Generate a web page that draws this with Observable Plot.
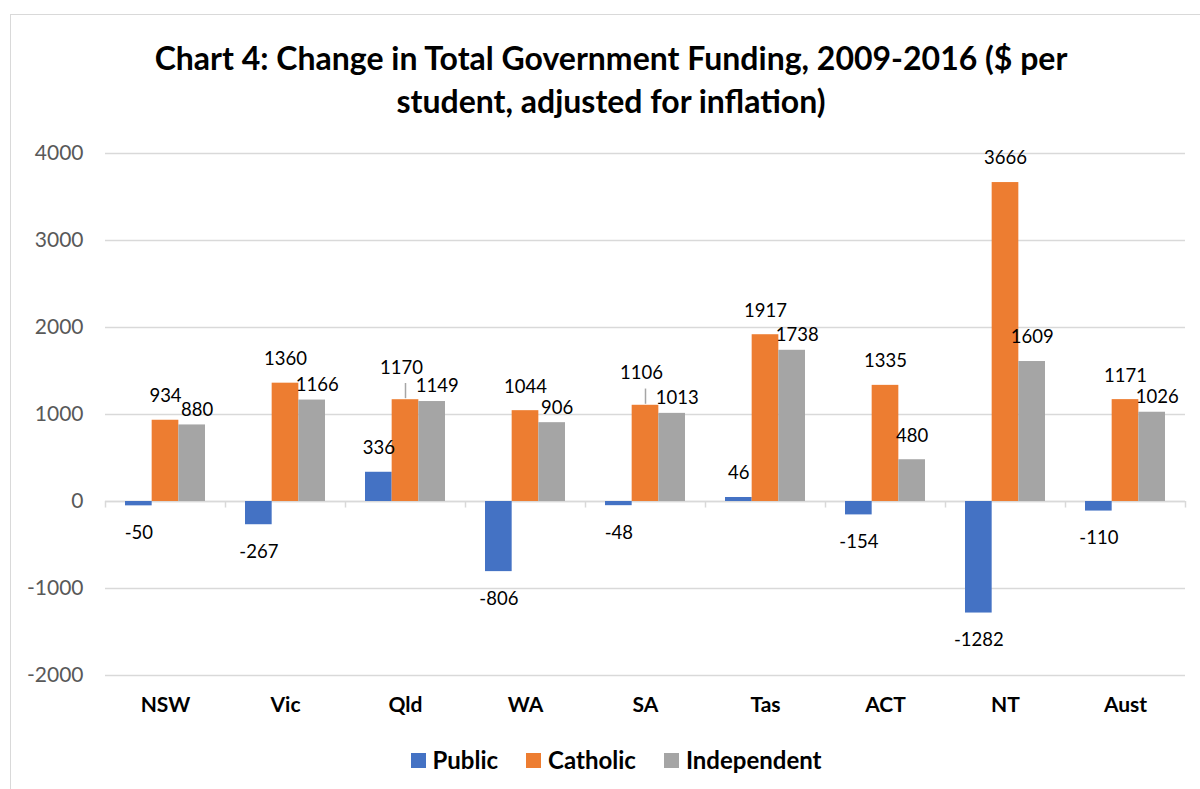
<!DOCTYPE html>
<html>
<head>
<meta charset="utf-8">
<script src="https://cdn.jsdelivr.net/npm/d3@7"></script>
<script src="https://cdn.jsdelivr.net/npm/@observablehq/plot@0.6"></script>
<style>
  body { margin: 0; background: #fff; font-family: Lato, "Open Sans", sans-serif; overflow: hidden; }
  #wrap { position: relative; width: 1200px; height: 789px; }
  #frame { position: absolute; left: 10px; top: 14px; width: 1200px; height: 800px; border: 1.5px solid #d9d9d9; box-sizing: border-box; }
  #title { position: relative; margin: 0; padding-top: 36px; height: 86px; width: 1222px; text-align: center; font-weight: bold; font-size: 32px; line-height: 43px; color: #000; white-space: nowrap; }
  #chart { position: relative; }
  #legend { position: relative; display: flex; justify-content: center; align-items: center; gap: 28px; margin-top: 13px; font-weight: bold; font-size: 24px; line-height: 30px; padding-left: 32px; }
  .item { display: flex; align-items: center; gap: 7px; }
  .sw { width: 15px; height: 15px; display: inline-block; }
</style>
</head>
<body>
<div id="wrap">
  <div id="frame"></div>
  <div id="title">Chart 4: Change in Total Government Funding, 2009-2016 ($ per<br>student, adjusted for inflation)</div>
  <div id="chart"></div>
  <div id="legend"></div>
</div>
<script>
const categories = ["NSW", "Vic", "Qld", "WA", "SA", "Tas", "ACT", "NT", "Aust"];
const seriesNames = ["Public", "Catholic", "Independent"];
const seriesColors = ["#4472C4", "#ED7D31", "#A5A5A5"];
const publicValues = [-50, -267, 336, -806, -48, 46, -154, -1282, -110];
const catholicValues = [934, 1360, 1170, 1044, 1106, 1917, 1335, 3666, 1171];
const independentValues = [880, 1166, 1149, 906, 1013, 1738, 480, 1609, 1026];
const yTicks = [-2000, -1000, 0, 1000, 2000, 3000, 4000];

const rows = categories.map((c, i) => ({
  cat: c,
  Public: publicValues[i],
  Catholic: catholicValues[i],
  Independent: independentValues[i]
}));

const band = 120, group = 80, bw = group / 3, pad = (band - group) / 2;
const inset = (i) => ({ insetLeft: pad + i * bw, insetRight: band - pad - (i + 1) * bw });
const gridColor = "#d9d9d9";
const fs = 18.5;

// labels that would collide (both 4-digit, close in height)
const crowded = (d) => Math.abs(d.Catholic - d.Independent) < 100 && d.Independent >= 1000;
const lowered = (d) => d.Catholic - d.Independent < 500;

const marks = [
  Plot.gridY(yTicks, { stroke: gridColor, strokeOpacity: 1, strokeWidth: 1.5 }),
  Plot.ruleX(categories, { x: d => d, dx: -band / 2, y1: 0, y2: -75, stroke: gridColor, strokeWidth: 1.5 }),
  Plot.ruleX(categories.slice(-1), { x: d => d, dx: band / 2, y1: 0, y2: -75, stroke: gridColor, strokeWidth: 1.5 }),
  Plot.ruleY([0], { stroke: gridColor, strokeWidth: 1.5 })
];

seriesNames.forEach((s, i) => {
  marks.push(Plot.barY(rows, { x: "cat", y: s, fill: seriesColors[i], ...inset(i) }));
});

// Public labels: above positive bars, below negative bars
marks.push(Plot.text(rows.filter(d => d.Public >= 0), { x: "cat", y: "Public", text: d => String(d.Public), dx: -bw, dy: -24, fontSize: fs, fill: "#000" }));
marks.push(Plot.text(rows.filter(d => d.Public < 0), { x: "cat", y: "Public", text: d => String(d.Public), dx: -bw, dy: 27, fontSize: fs, fill: "#000" }));
// Catholic labels
marks.push(Plot.text(rows.filter(d => !crowded(d)), { x: "cat", y: "Catholic", text: d => String(d.Catholic), dy: -24, fontSize: fs, fill: "#000" }));
marks.push(Plot.text(rows.filter(crowded), { x: "cat", y: "Catholic", text: d => String(d.Catholic), dx: -4, dy: -32, fontSize: fs, fill: "#000" }));
// leader lines for lifted labels
marks.push(Plot.ruleX(rows.filter(crowded), { x: "cat", y1: d => d.Catholic, y2: d => d.Catholic + 175, dy: -1, stroke: "#a6a6a6", strokeWidth: 1.5 }));
// Independent labels (lowered when close to the Catholic label)
marks.push(Plot.text(rows.filter(d => !lowered(d)), { x: "cat", y: "Independent", text: d => String(d.Independent), dx: bw, dy: -24, fontSize: fs, fill: "#000" }));
marks.push(Plot.text(rows.filter(lowered), { x: "cat", y: "Independent", text: d => String(d.Independent), dx: bw + 5, dy: -15, fontSize: fs, fill: "#000" }));

marks.push(Plot.axisY(yTicks, { tickSize: 0, tickPadding: 22, fontSize: 21, color: "#595959", label: null, tickFormat: d => String(d) }));
marks.push(Plot.axisX({ tickSize: 0, tickPadding: 22, fontSize: 21, fontWeight: "bold", color: "#000", label: null }));

const chart = Plot.plot({
  width: 1200,
  height: 610,
  marginLeft: 105,
  marginRight: 15,
  marginTop: 31,
  marginBottom: 57,
  style: { fontFamily: "Lato, 'Open Sans', sans-serif", background: "transparent", overflow: "visible" },
  x: { domain: categories, padding: 0, axis: null },
  y: { domain: [-2000, 4000], axis: null },
  marks
});
document.getElementById("chart").appendChild(chart);

const legend = document.getElementById("legend");
seriesNames.forEach((s, i) => {
  const it = document.createElement("div");
  it.className = "item";
  const sw = document.createElement("span");
  sw.className = "sw";
  sw.style.background = seriesColors[i];
  const t = document.createElement("span");
  t.textContent = s;
  it.appendChild(sw);
  it.appendChild(t);
  legend.appendChild(it);
});
</script>
</body>
</html>
